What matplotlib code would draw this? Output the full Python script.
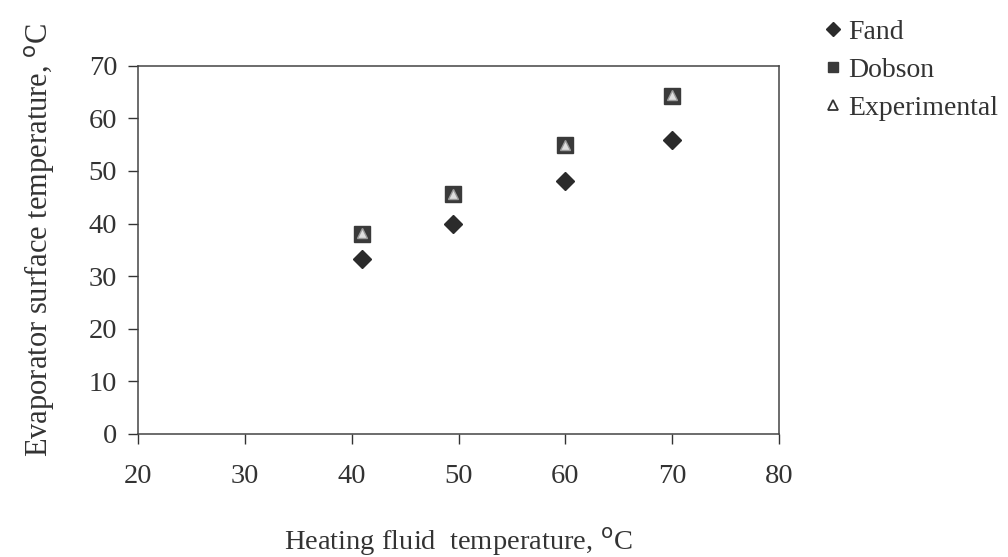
import matplotlib.pyplot as plt

heating = [41, 49.5, 60, 70]
fand = [33.3, 40, 48, 55.8]
dobson = [38, 45.6, 55, 64.3]
experimental = [38.2, 45.6, 55, 64.5]

plt.rcParams['font.family'] = ['Liberation Serif', 'DejaVu Serif']

fig = plt.figure(figsize=(10.08, 5.57), dpi=100)
ax = fig.add_axes([0.137, 0.221, 0.636, 0.661])

ax.plot(heating, fand, linestyle='none', marker='D', markersize=9,
        color='#2b2b2b', label='Fand')
ax.plot(heating, dobson, linestyle='none', marker='s', markersize=12,
        color='#3a3a3a', label='Dobson')
ax.plot(heating, experimental, linestyle='none', marker='^', markersize=6.5,
        markerfacecolor='#e0e0e0', markeredgecolor='#9a9a9a', markeredgewidth=1,
        label='Experimental')

ax.set_xlim(20, 80)
ax.set_ylim(0, 70)
ax.set_xticks(range(20, 81, 10))
ax.set_yticks(range(0, 71, 10))
ax.tick_params(direction='out', length=7, width=1, labelsize=20.5,
               colors='#333333', pad=8)
ax.tick_params(axis='x', pad=15)
for s in ax.spines.values():
    s.set_color('#444444')
    s.set_linewidth(1.1)

ax.set_xlabel('Heating fluid  temperature, $^{\\mathrm{o}}$C', fontsize=20.5,
              color='#333333', labelpad=26)
ax.set_ylabel('Evaporator surface temperature, $^{\\mathrm{o}}$C', fontsize=22,
              color='#333333')
ax.yaxis.set_label_coords(-0.126, 0.527)

# legend outside in the upper right corner
h = [plt.Line2D([], [], linestyle='none', marker='D', markersize=7, color='#2b2b2b'),
     plt.Line2D([], [], linestyle='none', marker='s', markersize=7, color='#3a3a3a'),
     plt.Line2D([], [], linestyle='none', marker='^', markersize=7,
                markerfacecolor='white', markeredgecolor='#333333', markeredgewidth=1.3)]
fig.legend(h, ['Fand', 'Dobson', 'Experimental'], loc='upper left',
           bbox_to_anchor=(0.793, 1.01), frameon=False, fontsize=20,
           handlelength=0.6, handletextpad=0.25, labelspacing=0.45,
           labelcolor='#333333')

fig.savefig('out.png', dpi=100)
